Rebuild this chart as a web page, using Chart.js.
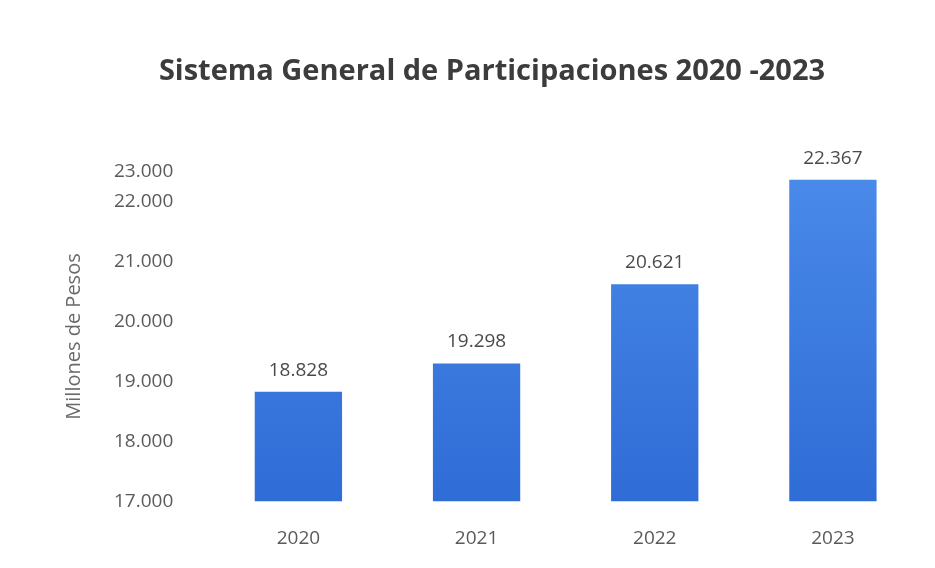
<!DOCTYPE html>
<html>
<head>
<meta charset="utf-8">
<script src="https://cdn.jsdelivr.net/npm/chart.js@4.4.1/dist/chart.umd.min.js"></script>
<style>
  html, body { margin: 0; padding: 0; background: #ffffff; }
  #wrap { width: 935px; height: 568px; position: relative; }
</style>
</head>
<body>
<div id="wrap"><canvas id="c" width="935" height="568"></canvas></div>
<script>
const categories = ["2020", "2021", "2022", "2023"];
const values = [18828, 19298, 20621, 22367];
const yTickValues = [17000, 18000, 19000, 20000, 21000, 22000, 22500];
const yMin = 17000;
const yMax = 22500;
const chartTitle = "Sistema General de Participaciones 2020 -2023";
const yAxisTitle = "Millones de Pesos";

function fmt(v) {
  const r = Math.round(v / 1000) * 1000;
  return r.toString().replace(/\B(?=(\d{3})+(?!\d))/g, ".");
}
function fmtExact(v) {
  return v.toString().replace(/\B(?=(\d{3})+(?!\d))/g, ".");
}

const valueLabels = {
  id: 'valueLabels',
  afterDatasetsDraw(chart) {
    const ctx = chart.ctx;
    const meta = chart.getDatasetMeta(0);
    ctx.save();
    ctx.font = '19px "Open Sans", sans-serif';
    ctx.fillStyle = '#4a4a4a';
    ctx.textAlign = 'center';
    ctx.textBaseline = 'bottom';
    meta.data.forEach((bar, i) => {
      ctx.fillText(fmtExact(chart.data.datasets[0].data[i]), bar.x, bar.y - 12);
    });
    ctx.restore();
  }
};

const ctx = document.getElementById('c').getContext('2d');
new Chart(ctx, {
  type: 'bar',
  data: {
    labels: categories,
    datasets: [{
      data: values,
      backgroundColor: (c) => {
        const area = c.chart.chartArea;
        if (!area) return '#3a7ae0';
        const g = c.chart.ctx.createLinearGradient(0, area.top, 0, area.bottom);
        g.addColorStop(0, '#4a8ae9');
        g.addColorStop(1, '#2f6cd6');
        return g;
      },
      borderWidth: 0,
      barPercentage: 0.98,
      categoryPercentage: 0.5
    }]
  },
  options: {
    responsive: false,
    animation: false,
    devicePixelRatio: 1,
    layout: { padding: { left: 62, right: 13, top: 54, bottom: 0 } },
    plugins: {
      legend: { display: false },
      tooltip: { enabled: false },
      title: {
        display: true,
        text: chartTitle,
        color: '#3c3c3c',
        font: { family: '"Open Sans", sans-serif', size: 29, weight: 'bold' },
        padding: { top: 0, bottom: 83 }
      }
    },
    scales: {
      x: {
        grid: { display: false },
        border: { display: false },
        ticks: {
          color: '#5a5a5a',
          font: { family: '"Open Sans", sans-serif', size: 19 },
          padding: 18
        }
      },
      y: {
        min: yMin,
        max: yMax,
        afterBuildTicks: (scale) => {
          scale.ticks = yTickValues.map(v => ({ value: v }));
        },
        grid: { display: false },
        border: { display: false },
        ticks: {
          color: '#5a5a5a',
          font: { family: '"Open Sans", sans-serif', size: 19 },
          padding: 28,
          callback: (v) => fmt(v)
        },
        title: {
          display: true,
          text: yAxisTitle,
          color: '#6a6a6a',
          font: { family: '"Open Sans", sans-serif', size: 20 },
          padding: { top: 0, bottom: 0 }
        }
      }
    }
  },
  plugins: [valueLabels]
});
</script>
</body>
</html>
